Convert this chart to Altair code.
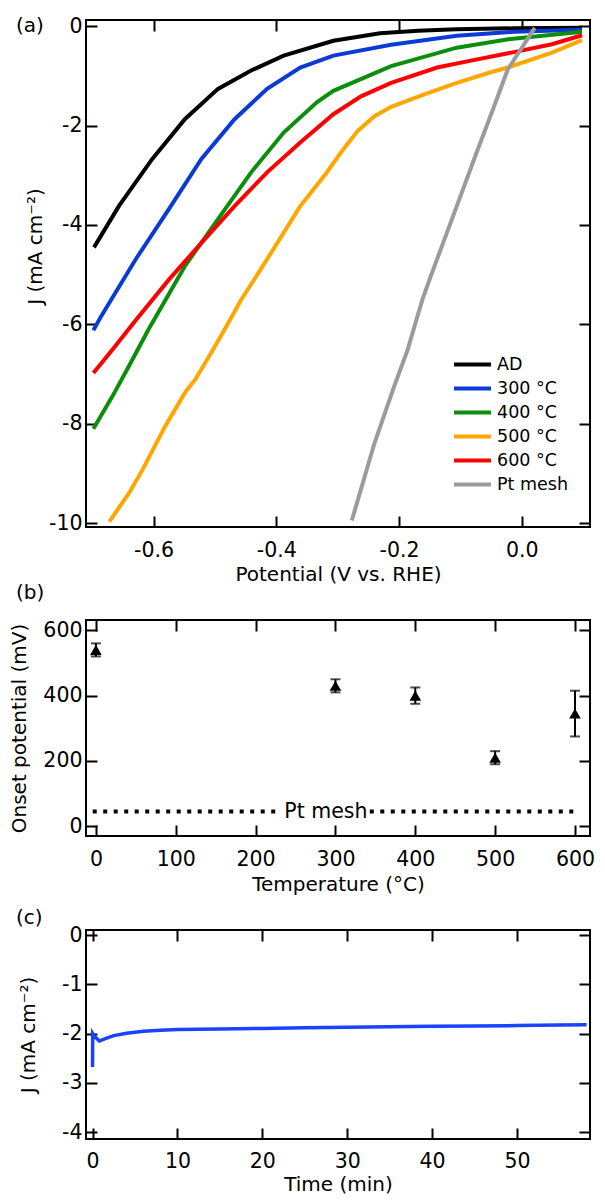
import altair as alt
import pandas as pd

FONT = "DejaVu Sans"
TICK = 11
W = 504

# ---------------- panel (a): LSV curves ----------------
series_names = ["AD", "300 °C", "400 °C", "500 °C", "600 °C", "Pt mesh"]
series_colors = ["#000000", "#0b3bd4", "#0c8e0c", "#ffa600", "#ff0000", "#9b9b9b"]

ad_v = [-0.697, -0.656, -0.602, -0.549, -0.495, -0.441, -0.388, -0.307, -0.231, -0.169, -0.107, -0.013, 0.098]
ad_j = [-4.45, -3.61, -2.67, -1.87, -1.26, -0.89, -0.59, -0.29, -0.14, -0.09, -0.06, -0.04, -0.03]

t300_v = [-0.698, -0.685, -0.629, -0.575, -0.522, -0.468, -0.415, -0.361, -0.307, -0.213, -0.106, -0.013, 0.098]
t300_j = [-6.12, -5.83, -4.69, -3.68, -2.67, -1.87, -1.26, -0.83, -0.59, -0.37, -0.19, -0.11, -0.07]

t400_v = [-0.698, -0.667, -0.640, -0.608, -0.549, -0.495, -0.441, -0.388, -0.334, -0.307, -0.213, -0.106, -0.022, 0.098]
t400_j = [-8.10, -7.45, -6.84, -6.10, -4.83, -3.88, -2.94, -2.14, -1.53, -1.30, -0.80, -0.43, -0.26, -0.11]

t500_v = [-0.672, -0.640, -0.618, -0.581, -0.549, -0.532, -0.506, -0.484, -0.457, -0.415, -0.361, -0.320,
          -0.293, -0.267, -0.240, -0.213, -0.159, -0.106, -0.052, -0.023, 0.049, 0.098]
t500_j = [-9.97, -9.40, -8.93, -8.05, -7.38, -7.11, -6.57, -6.10, -5.50, -4.69, -3.62, -2.98,
          -2.51, -2.10, -1.81, -1.62, -1.37, -1.14, -0.93, -0.83, -0.53, -0.28]

t600_v = [-0.698, -0.667, -0.629, -0.575, -0.522, -0.468, -0.415, -0.361, -0.307, -0.262, -0.213, -0.138,
          -0.075, -0.017, 0.049, 0.098]
t600_j = [-6.98, -6.51, -5.92, -5.10, -4.36, -3.62, -2.94, -2.34, -1.77, -1.41, -1.14, -0.83,
          -0.67, -0.53, -0.36, -0.18]

pt_v = [-0.277, -0.240, -0.208, -0.186, -0.162, -0.149, -0.106, -0.074, -0.047, -0.023, 0.021]
pt_j = [-9.95, -8.39, -7.25, -6.51, -5.50, -5.05, -3.62, -2.55, -1.67, -0.87, -0.03]

a_x_ticks = [-0.6, -0.4, -0.2, 0.0]
a_y_ticks = [0, -2, -4, -6, -8, -10]

# ---------------- panel (b): onset potential ----------------
temp = [0, 300, 400, 500, 600]
onset = [540, 430, 400, 210, 345]
onset_err = [20, 20, 25, 20, 70]
pt_onset = 45
pt_segments_start = [-4, 343]
pt_segments_end = [231, 606]
b_x_ticks = [0, 100, 200, 300, 400, 500, 600]
b_y_ticks = [0, 200, 400, 600]

# ---------------- panel (c): stability ----------------
time_min = [0, 0.02, 0.2, 0.8, 1.5, 2.5, 4, 6, 8, 10, 15, 20, 25, 30, 35, 40, 45, 50, 55, 58.2]
current = [-2.68, -2.00, -2.05, -2.15, -2.10, -2.04, -1.99, -1.95, -1.93, -1.915, -1.905, -1.895,
           -1.88, -1.87, -1.86, -1.85, -1.845, -1.835, -1.825, -1.82]
c_x_ticks = [0, 10, 20, 30, 40, 50]
c_y_ticks = [0, -1, -2, -3, -4]


def axis(orient, values, fmt="d", title=None, show=True, label_pad=4, title_pad=4, **extra):
    opts = dict(orient=orient, values=values, offset=-TICK, tickSize=TICK, tickWidth=2,
                tickColor="black", domain=False, grid=False, labels=show, ticks=True)
    if show:
        opts.update(
            labelExpr="(datum.value < 0 ? '-' : '') + format(abs(datum.value), '%s')" % fmt,
            labelFont=FONT, labelFontSize=20.5, labelColor="black", labelPadding=label_pad,
            labelOverlap=False, labelFlush=False, labelBound=False,
            title=title, titleFont=FONT, titleFontSize=20, titleFontWeight="normal",
            titleColor="black", titlePadding=title_pad)
        opts.update(extra)
    else:
        opts["title"] = None
    return alt.Axis(**opts)


def tag(text, x, y):
    return alt.Chart(pd.DataFrame({"t": [text]})).mark_text(
        align="left", baseline="middle", font=FONT, fontSize=20, color="black"
    ).encode(text="t:N", x=alt.value(x), y=alt.value(y))


# ---- build panel (a)
rows = []
for name, vs, js in zip(series_names,
                        [ad_v, t300_v, t400_v, t500_v, t600_v, pt_v],
                        [ad_j, t300_j, t400_j, t500_j, t600_j, pt_j]):
    for v, j in zip(vs, js):
        rows.append({"series": name, "V": v, "J": j})
df_a = pd.DataFrame(rows)

xa = alt.Scale(domain=[-0.71, 0.111], nice=False, zero=False)
ya = alt.Scale(domain=[-10.08, 0.127], nice=False, zero=False)
HA = 507

lines_a = alt.Chart(df_a).mark_line(strokeWidth=4).encode(
    x=alt.X("V:Q", scale=xa, axis=axis("bottom", a_x_ticks, ".1f", "Potential (V vs. RHE)", label_pad=13, title_pad=4)),
    y=alt.Y("J:Q", scale=ya, axis=axis("left", a_y_ticks, "d", "J (mA cm⁻²)", label_pad=4, title_pad=3, titleY=226)),
    color=alt.Color("series:N", scale=alt.Scale(domain=series_names, range=series_colors),
                    legend=alt.Legend(orient="none", legendX=375, legendY=333, title=None,
                                      symbolType="M-2,0H2", symbolStrokeWidth=4, symbolSize=342,
                                      labelFont=FONT, labelFontSize=17.5, labelColor="black",
                                      labelOffset=13, rowPadding=4, padding=0)),
)
mirror_a = alt.Chart(df_a).mark_point(opacity=0).encode(
    x=alt.X("V:Q", scale=xa, axis=axis("top", a_x_ticks, show=False)),
    y=alt.Y("J:Q", scale=ya, axis=axis("right", a_y_ticks, show=False)),
)
panel_a = alt.layer(lines_a, mirror_a, tag("(a)", -70, 6), tag("(b)", -70, 573)).resolve_scale(
    x="independent", y="independent").properties(width=W, height=HA)

# ---- build panel (b)
df_b = pd.DataFrame({"T": temp, "E": onset, "err": onset_err})
df_b["lo"] = df_b["E"] - df_b["err"]
df_b["hi"] = df_b["E"] + df_b["err"]
df_pt = pd.DataFrame({"x0": pt_segments_start, "x1": pt_segments_end, "y": [pt_onset, pt_onset]})
df_ptlab = pd.DataFrame({"x": [288], "y": [pt_onset], "t": ["Pt mesh"]})

xb = alt.Scale(domain=[-12.4, 618.8], nice=False, zero=False)
yb = alt.Scale(domain=[-29.7, 631.5], nice=False, zero=False)
HB = 216

bx = alt.X("T:Q", scale=xb, axis=axis("bottom", b_x_ticks, "d", "Temperature (°C)", label_pad=13, title_pad=5))
by = alt.Y("E:Q", scale=yb, axis=axis("left", b_y_ticks, "d", "Onset potential (mV)", label_pad=4, title_pad=13))

pts_b = alt.Chart(df_b).mark_point(shape="triangle-up", filled=True, size=135, color="black", opacity=1).encode(x=bx, y=by)
err_b = alt.Chart(df_b).mark_rule(strokeWidth=2, color="black").encode(
    x=alt.X("T:Q", scale=xb), y=alt.Y("lo:Q", scale=yb), y2="hi:Q")
caplo_b = alt.Chart(df_b).mark_tick(orient="horizontal", size=10, thickness=2, color="black").encode(
    x=alt.X("T:Q", scale=xb), y=alt.Y("lo:Q", scale=yb))
caphi_b = alt.Chart(df_b).mark_tick(orient="horizontal", size=10, thickness=2, color="black").encode(
    x=alt.X("T:Q", scale=xb), y=alt.Y("hi:Q", scale=yb))
ptline_b = alt.Chart(df_pt).mark_rule(strokeWidth=4, strokeDash=[4, 6.5], color="black").encode(
    x=alt.X("x0:Q", scale=xb), x2="x1:Q", y=alt.Y("y:Q", scale=yb))
ptlab_b = alt.Chart(df_ptlab).mark_text(font=FONT, fontSize=20.5, color="black", baseline="middle").encode(
    x=alt.X("x:Q", scale=xb), y=alt.Y("y:Q", scale=yb), text="t:N")
main_b = alt.layer(err_b, caplo_b, caphi_b, pts_b, ptline_b, ptlab_b)
mirror_b = alt.Chart(df_b).mark_point(opacity=0).encode(
    x=alt.X("T:Q", scale=xb, axis=axis("top", b_x_ticks, show=False)),
    y=alt.Y("E:Q", scale=yb, axis=axis("right", b_y_ticks, show=False)),
)
panel_b = alt.layer(main_b, mirror_b, tag("(c)", -70, 298)).resolve_scale(
    x="independent", y="independent").properties(width=W, height=HB)

# ---- build panel (c)
df_c = pd.DataFrame({"t": time_min, "J": current, "i": list(range(len(time_min)))})
xc = alt.Scale(domain=[-0.77, 58.6], nice=False, zero=False)
yc = alt.Scale(domain=[-4.142, 0.108], nice=False, zero=False)
HC = 209

line_c = alt.Chart(df_c).mark_line(strokeWidth=3.5, color="#1a42ff").encode(
    x=alt.X("t:Q", scale=xc, axis=axis("bottom", c_x_ticks, "d", "Time (min)", label_pad=12, title_pad=3)),
    y=alt.Y("J:Q", scale=yc, axis=axis("left", c_y_ticks, "d", "J (mA cm⁻²)", label_pad=4, title_pad=23)),
    order="i:Q",
)
mirror_c = alt.Chart(df_c).mark_point(opacity=0).encode(
    x=alt.X("t:Q", scale=xc, axis=axis("top", c_x_ticks, show=False)),
    y=alt.Y("J:Q", scale=yc, axis=axis("right", c_y_ticks, show=False)),
)
panel_c = alt.layer(line_c, mirror_c).resolve_scale(
    x="independent", y="independent").properties(width=W, height=HC)

chart = alt.vconcat(
    alt.vconcat(panel_a, panel_b, spacing=14),
    panel_c,
    spacing=-5,
).configure(
    padding={"left": 0, "top": 7, "right": 0, "bottom": 0},
    font=FONT,
).configure_view(stroke="black", strokeWidth=2)

chart.save("out.html", embed_options={"renderer": "svg", "actions": False})
